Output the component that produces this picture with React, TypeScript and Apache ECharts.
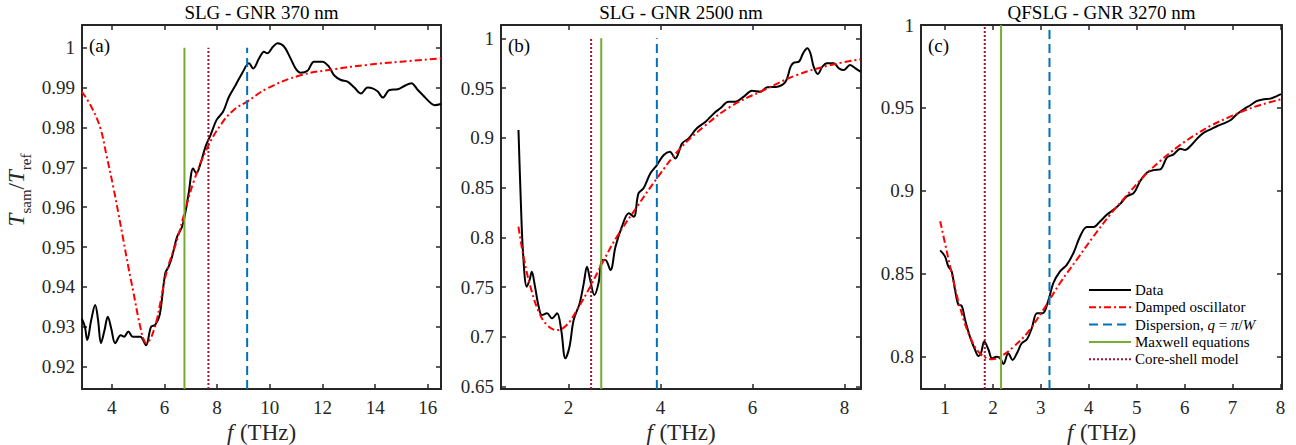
import React, { useEffect, useRef } from "react";
import * as echarts from "echarts";

const FONT = "Liberation Serif, Times New Roman, serif";

const titles = ["SLG - GNR 370 nm", "SLG - GNR 2500 nm", "QFSLG - GNR 3270 nm"];
const panelLabels = ["(a)", "(b)", "(c)"];

// Panel (a)
const aDataF = [2.86, 2.98, 3.07, 3.22, 3.37, 3.48, 3.59, 3.72, 3.85, 3.98, 4.13, 4.34, 4.47, 4.63, 4.8, 5.08, 5.3, 5.49, 5.65, 5.82, 6.03, 6.16, 6.29, 6.48, 6.67, 6.79, 6.92, 7.09, 7.21, 7.37, 7.56, 7.75, 7.98, 8.23, 8.45, 8.7, 8.95, 9.21, 9.37, 9.59, 9.78, 9.9, 10.13, 10.29, 10.54, 10.79, 10.98, 11.17, 11.43, 11.68, 12.0, 12.25, 12.44, 12.7, 12.95, 13.21, 13.46, 13.71, 13.9, 14.1, 14.29, 14.54, 14.86, 15.11, 15.37, 15.62, 15.87, 16.13, 16.25, 16.5];
const aDataT = [0.9321, 0.93, 0.9267, 0.9317, 0.9355, 0.9317, 0.9259, 0.929, 0.9325, 0.9296, 0.9259, 0.9279, 0.9275, 0.9288, 0.9275, 0.9275, 0.9254, 0.93, 0.9305, 0.933, 0.9434, 0.9451, 0.9476, 0.9526, 0.9551, 0.9585, 0.9635, 0.9697, 0.9685, 0.971, 0.9752, 0.9781, 0.9819, 0.984, 0.9877, 0.9906, 0.9936, 0.9961, 0.9948, 0.9973, 0.999, 0.9986, 1.0003, 1.0011, 1.0003, 0.9973, 0.9948, 0.9937, 0.9942, 0.9965, 0.9965, 0.9952, 0.9931, 0.9919, 0.9915, 0.99, 0.9885, 0.99, 0.9898, 0.989, 0.9875, 0.9894, 0.9896, 0.9904, 0.9911, 0.9894, 0.9877, 0.986, 0.9856, 0.9859];
const aFitF = [2.86, 3.2, 3.56, 3.8, 4.06, 4.25, 4.44, 4.63, 4.83, 5.0, 5.1, 5.2, 5.31, 5.45, 5.59, 5.72, 5.84, 6.1, 6.48, 6.79, 7.11, 7.62, 8.13, 8.63, 9.14, 9.9, 11.17, 12.44, 13.71, 14.98, 16.5];
const aFitT = [0.989, 0.9855, 0.98, 0.973, 0.965, 0.9585, 0.9518, 0.945, 0.9384, 0.9325, 0.9295, 0.927, 0.9259, 0.9268, 0.929, 0.932, 0.9359, 0.9442, 0.9518, 0.9593, 0.9664, 0.9748, 0.9806, 0.9844, 0.9865, 0.9898, 0.9931, 0.9946, 0.9957, 0.9965, 0.9973];

// Panel (b)
const bDataF = [0.91, 0.96, 1.01, 1.09, 1.15, 1.2, 1.27, 1.35, 1.42, 1.53, 1.64, 1.75, 1.84, 1.93, 2.02, 2.11, 2.24, 2.33, 2.4, 2.47, 2.56, 2.65, 2.73, 2.8, 2.91, 3.02, 3.16, 3.31, 3.42, 3.52, 3.63, 3.78, 3.92, 4.07, 4.2, 4.32, 4.47, 4.61, 4.79, 4.98, 5.16, 5.3, 5.48, 5.63, 5.81, 5.99, 6.17, 6.32, 6.54, 6.72, 6.83, 6.9, 7.01, 7.1, 7.19, 7.26, 7.33, 7.42, 7.52, 7.62, 7.77, 7.88, 7.99, 8.12, 8.24, 8.35];
const bDataT = [0.908, 0.8376, 0.784, 0.7505, 0.757, 0.7655, 0.7505, 0.7304, 0.722, 0.7237, 0.7187, 0.7237, 0.7069, 0.6785, 0.6902, 0.717, 0.7337, 0.7538, 0.7706, 0.7572, 0.7421, 0.7538, 0.7773, 0.7773, 0.7672, 0.7907, 0.8108, 0.8242, 0.8208, 0.8443, 0.8493, 0.8644, 0.8727, 0.8828, 0.8861, 0.8794, 0.8945, 0.8995, 0.9096, 0.9163, 0.9246, 0.9297, 0.9364, 0.9364, 0.9414, 0.9474, 0.9464, 0.9508, 0.9514, 0.9565, 0.9715, 0.9756, 0.9766, 0.9849, 0.99, 0.985, 0.9715, 0.9642, 0.9715, 0.9749, 0.9749, 0.9699, 0.9682, 0.9732, 0.9699, 0.9665];
const bFitF = [0.91, 1.02, 1.17, 1.35, 1.53, 1.75, 1.96, 2.18, 2.47, 2.73, 3.05, 3.49, 3.92, 4.43, 4.94, 5.52, 6.25, 6.97, 7.7, 8.35];
const bFitT = [0.8108, 0.7806, 0.7505, 0.7254, 0.712, 0.7069, 0.712, 0.727, 0.7505, 0.7739, 0.8007, 0.8309, 0.8593, 0.8895, 0.9112, 0.9313, 0.9481, 0.9632, 0.9732, 0.9789];

// Panel (c)
const cDataF = [0.9, 1.0, 1.07, 1.14, 1.21, 1.28, 1.35, 1.42, 1.52, 1.63, 1.7, 1.75, 1.82, 1.91, 1.98, 2.08, 2.15, 2.22, 2.32, 2.41, 2.5, 2.6, 2.71, 2.81, 2.92, 3.04, 3.16, 3.26, 3.4, 3.54, 3.68, 3.82, 3.96, 4.1, 4.24, 4.38, 4.52, 4.66, 4.8, 4.94, 5.07, 5.21, 5.35, 5.49, 5.63, 5.77, 5.91, 6.01, 6.12, 6.26, 6.4, 6.54, 6.68, 6.82, 6.96, 7.09, 7.23, 7.37, 7.51, 7.65, 7.79, 7.93, 8.01];
const cDataT = [0.8641, 0.8605, 0.8544, 0.8514, 0.8403, 0.8313, 0.8306, 0.8222, 0.8121, 0.804, 0.8004, 0.802, 0.8091, 0.804, 0.799, 0.8, 0.799, 0.7956, 0.802, 0.798, 0.802, 0.8081, 0.8105, 0.8171, 0.8262, 0.8262, 0.8343, 0.8444, 0.8514, 0.8554, 0.8625, 0.8726, 0.8782, 0.8782, 0.8817, 0.8857, 0.8887, 0.8923, 0.8968, 0.8988, 0.9058, 0.9109, 0.9125, 0.9129, 0.92, 0.922, 0.9254, 0.9246, 0.927, 0.9315, 0.9351, 0.9371, 0.9391, 0.9407, 0.9427, 0.9462, 0.9492, 0.9516, 0.9542, 0.9552, 0.9556, 0.9573, 0.9583];
const cFitF = [0.9, 1.0, 1.14, 1.31, 1.52, 1.73, 1.98, 2.18, 2.43, 2.71, 3.05, 3.4, 3.75, 4.1, 4.45, 4.8, 5.14, 5.49, 5.84, 6.19, 6.54, 6.89, 7.23, 7.58, 8.01];
const cFitT = [0.8817, 0.8685, 0.8504, 0.8302, 0.8121, 0.802, 0.7984, 0.8004, 0.806, 0.8141, 0.8282, 0.8444, 0.8585, 0.8726, 0.8858, 0.8975, 0.9085, 0.918, 0.9262, 0.9332, 0.9392, 0.944, 0.9482, 0.9518, 0.9552];

// Resonance frequency markers (THz) for (a), (b), (c)
const dispersionF = [9.14, 3.92, 3.18];
const maxwellF = [6.76, 2.71, 2.17];
const coreShellF = [7.67, 2.49, 1.83];

// Axes
const xMin = [2.87, 0.53, 0.5];
const xMax = [16.5, 8.36, 8.03];
const yMin = [0.9144, 0.6477, 0.7805];
const yMax = [1.0057, 1.0134, 1.0];
const xTicks = [[4, 6, 8, 10, 12, 14, 16], [2, 4, 6, 8], [1, 2, 3, 4, 5, 6, 7, 8]];
const yTicks = [
  [0.92, 0.93, 0.94, 0.95, 0.96, 0.97, 0.98, 0.99, 1],
  [0.65, 0.7, 0.75, 0.8, 0.85, 0.9, 0.95, 1],
  [0.8, 0.85, 0.9, 0.95, 1],
];

const dataF = [aDataF, bDataF, cDataF];
const dataT = [aDataT, bDataT, cDataT];
const fitF = [aFitF, bFitF, cFitF];
const fitT = [aFitT, bFitT, cFitT];

const zip = (f: number[], t: number[]) => f.map((x, i) => [x, t[i]]);

const C_DATA = "#000000";
const C_FIT = "#FF0000";
const C_DISP = "#0072BD";
const C_MAX = "#77AC30";
const C_CORE = "#A2142F";
const AX = "#262626";

const GRID_LEFT = [82, 501, 921];
const GRID_W = [359, 360, 361];
const GRID_TOP = 25;
const GRID_H = 364;

const FIT_DASH = [7, 3, 2, 3];
const DISP_DASH = [9, 5];
const CORE_DASH = [2, 2];

export default function App() {
  const ref = useRef<HTMLDivElement>(null);
  useEffect(() => {
    if (!ref.current) return;
    const chart = echarts.init(ref.current, undefined, { renderer: "svg" });
    const fmt = (v: number) => String(parseFloat(v.toFixed(3)));

    const grids: any[] = [];
    const xAxes: any[] = [];
    const yAxes: any[] = [];
    const series: any[] = [];
    const graphics: any[] = [];

    for (let i = 0; i < 3; i++) {
      grids.push({
        left: GRID_LEFT[i],
        top: GRID_TOP,
        width: GRID_W[i],
        height: GRID_H,
        show: false,
        containLabel: false,
        outerBoundsMode: "none",
      });
      const axLine = { show: true, onZero: false, lineStyle: { color: AX, width: 2 } };
      const tick = (vals: number[]) => ({
        show: true,
        inside: true,
        length: 5,
        customValues: vals,
        lineStyle: { color: AX, width: 1.5 },
      });
      xAxes.push({
        type: "value",
        gridIndex: i,
        position: "bottom",
        min: xMin[i],
        max: xMax[i],
        axisLine: axLine,
        axisTick: tick(xTicks[i]),
        axisLabel: {
          customValues: xTicks[i],
          formatter: fmt,
          color: AX,
          fontFamily: FONT,
          fontSize: 19,
          margin: 9,
          showMinLabel: true,
          showMaxLabel: true,
        },
        splitLine: { show: false },
      });
      xAxes.push({
        type: "value",
        gridIndex: i,
        position: "top",
        min: xMin[i],
        max: xMax[i],
        axisLine: axLine,
        axisTick: tick(xTicks[i]),
        axisLabel: { show: false },
        splitLine: { show: false },
      });
      yAxes.push({
        type: "value",
        gridIndex: i,
        position: "left",
        min: yMin[i],
        max: yMax[i],
        axisLine: axLine,
        axisTick: tick(yTicks[i]),
        axisLabel: {
          customValues: yTicks[i],
          formatter: fmt,
          color: AX,
          fontFamily: FONT,
          fontSize: 19,
          margin: 7,
        },
        splitLine: { show: false },
      });
      yAxes.push({
        type: "value",
        gridIndex: i,
        position: "right",
        min: yMin[i],
        max: yMax[i],
        axisLine: axLine,
        axisTick: tick(yTicks[i]),
        axisLabel: { show: false },
        splitLine: { show: false },
      });

      const xi = 2 * i;
      const yi = 2 * i;
      const vline = (name: string, f: number, color: string, type: any, z: number) => ({
        name,
        type: "line",
        xAxisIndex: xi,
        yAxisIndex: yi,
        data: [
          [f, yMin[i]],
          [f, 1],
        ],
        symbol: "none",
        silent: true,
        z,
        lineStyle: { color, width: 2, type },
      });
      series.push({
        name: "Data",
        type: "line",
        xAxisIndex: xi,
        yAxisIndex: yi,
        data: zip(dataF[i], dataT[i]),
        symbol: "none",
        smooth: 0.35,
        clip: true,
        z: 3,
        lineStyle: { color: C_DATA, width: 2 },
      });
      series.push({
        name: "Damped oscillator",
        type: "line",
        xAxisIndex: xi,
        yAxisIndex: yi,
        data: zip(fitF[i], fitT[i]),
        symbol: "none",
        smooth: 0.4,
        clip: true,
        z: 4,
        lineStyle: { color: C_FIT, width: 2, type: FIT_DASH },
      });
      series.push(vline("Dispersion", dispersionF[i], C_DISP, DISP_DASH, 5));
      series.push(vline("Maxwell equations", maxwellF[i], C_MAX, "solid", 5));
      series.push(vline("Core-shell model", coreShellF[i], C_CORE, CORE_DASH, 5));

      // titles
      graphics.push({
        type: "text",
        x: GRID_LEFT[i] + GRID_W[i] / 2,
        y: 12,
        style: {
          text: titles[i],
          fontFamily: FONT,
          fontSize: 19,
          fill: "#000",
          textAlign: "center",
          textVerticalAlign: "middle",
        },
      });
      // panel labels
      graphics.push({
        type: "text",
        x: GRID_LEFT[i] + 7,
        y: 45,
        style: {
          text: panelLabels[i],
          fontFamily: FONT,
          fontSize: 19,
          fill: "#000",
          textAlign: "left",
          textVerticalAlign: "middle",
        },
      });
      // x axis name
      graphics.push({
        type: "text",
        x: GRID_LEFT[i] + GRID_W[i] / 2,
        y: 432,
        style: {
          text: "{it|f}  {n|(THz)}",
          textAlign: "center",
          textVerticalAlign: "middle",
          rich: {
            it: { fontFamily: FONT, fontSize: 23, fontStyle: "italic", fill: AX },
            n: { fontFamily: FONT, fontSize: 23, fill: AX },
          },
        },
      });
    }

    // y axis name
    graphics.push({
      type: "text",
      x: 19,
      y: 190,
      rotation: Math.PI / 2,
      style: {
        text: "{it|T}{sub|sam}{n|/}{it|T}{sub|ref}",
        textAlign: "center",
        textVerticalAlign: "middle",
        rich: {
          it: { fontFamily: FONT, fontSize: 23, fontStyle: "italic", fill: AX, lineHeight: 28, verticalAlign: "top" },
          n: { fontFamily: FONT, fontSize: 23, fill: AX, lineHeight: 28, verticalAlign: "top" },
          sub: { fontFamily: FONT, fontSize: 15, fill: AX, lineHeight: 28, verticalAlign: "bottom" },
        },
      },
    });

    // legend in panel (c)
    const legendItems = [
      { text: "Data", color: C_DATA, dash: null as any },
      { text: "Damped oscillator", color: C_FIT, dash: FIT_DASH },
      { text: "Dispersion, {it|q} = {it|π}/{it|W}", color: C_DISP, dash: DISP_DASH },
      { text: "Maxwell equations", color: C_MAX, dash: null },
      { text: "Core-shell model", color: C_CORE, dash: CORE_DASH },
    ];
    const lx = 1089;
    const ly = 290;
    const lstep = 17.3;
    legendItems.forEach((it, k) => {
      const y = ly + k * lstep;
      graphics.push({
        type: "line",
        shape: { x1: lx, y1: y, x2: lx + 42, y2: y },
        style: { stroke: it.color, lineWidth: 2, lineDash: it.dash || undefined },
        z: 100,
      });
      graphics.push({
        type: "text",
        x: lx + 46,
        y,
        z: 100,
        style: {
          text: it.text,
          fontFamily: FONT,
          fontSize: 15,
          fill: "#000",
          textAlign: "left",
          textVerticalAlign: "middle",
          rich: {
            it: { fontFamily: FONT, fontSize: 15, fontStyle: "italic", fill: "#000" },
          },
        },
      });
    });

    chart.setOption({
      animation: false,
      backgroundColor: "#ffffff",
      grid: grids,
      xAxis: xAxes,
      yAxis: yAxes,
      series,
      graphic: graphics,
    });
    return () => chart.dispose();
  }, []);

  return (
    <div
      ref={ref}
      style={{ position: "fixed", left: 0, top: 0, width: 1296, height: 445, background: "#fff" }}
    />
  );
}
